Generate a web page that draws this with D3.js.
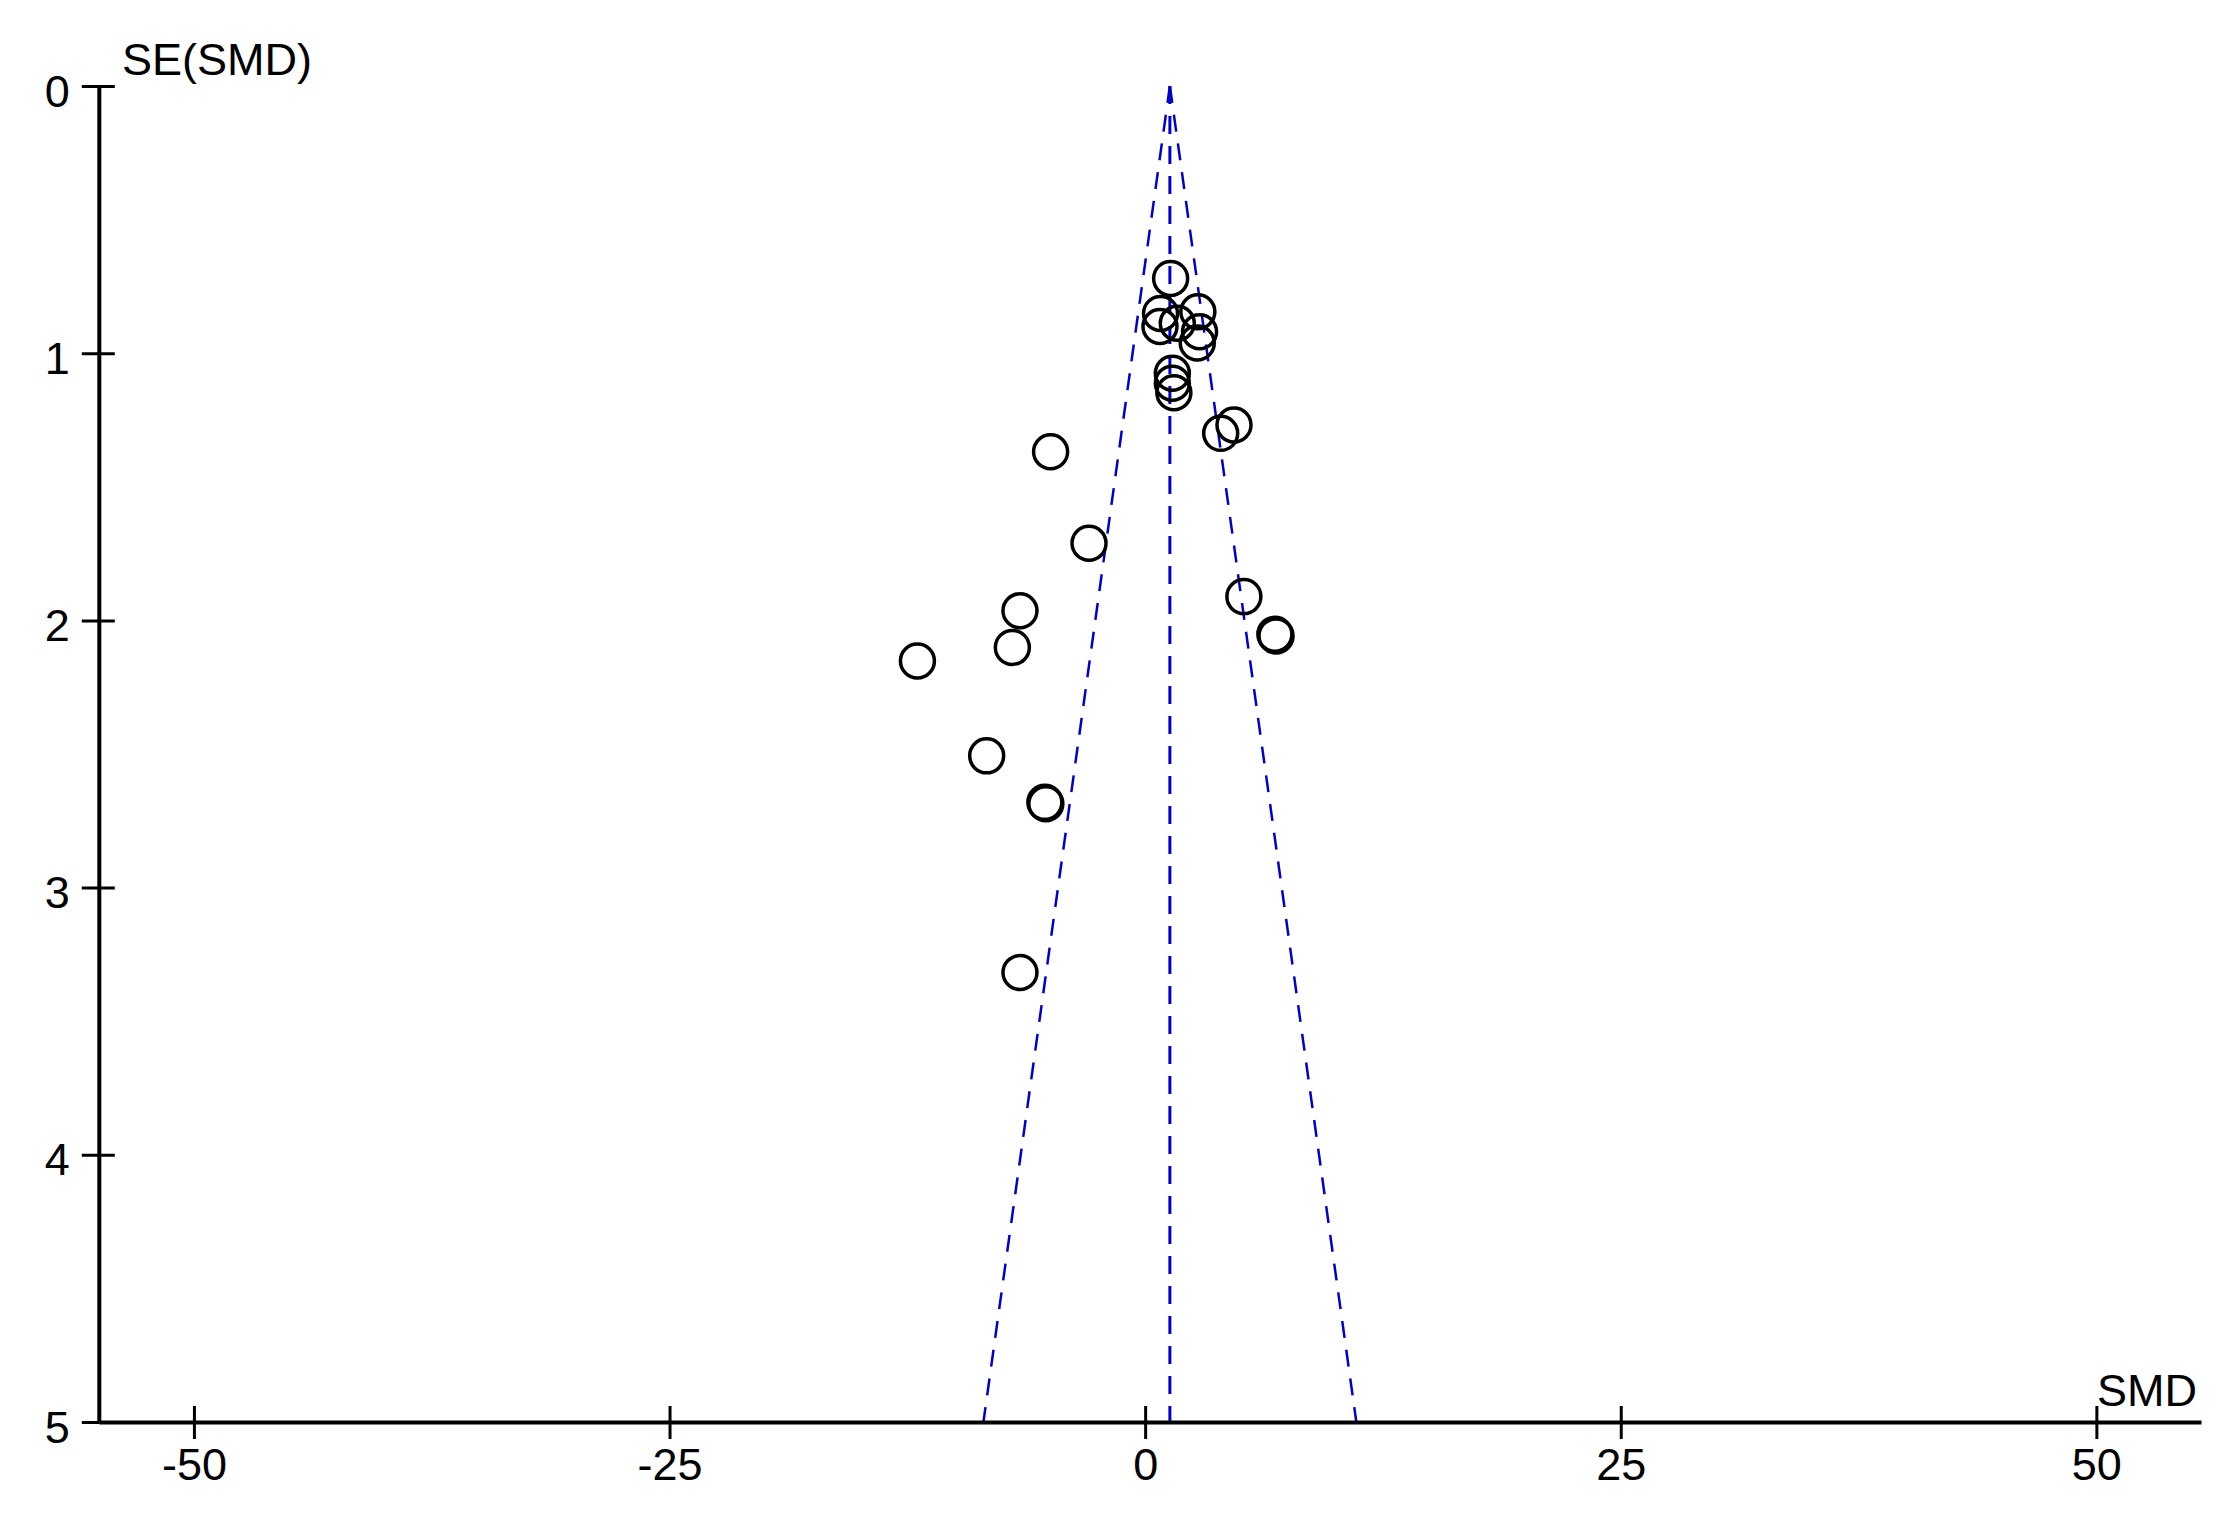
<!DOCTYPE html>
<html lang="en">
<head>
  <meta charset="UTF-8">
  <title>Funnel plot</title>
  <script src="https://d3js.org/d3.v7.min.js"></script>
  <style>
    body { margin: 0; background: #fff; }
    text { font-family: "Liberation Sans", Arial, sans-serif; font-size: 45px; fill: #000; }
  </style>
</head>
<body>
<div class="canvas"></div>
<script>
  // study estimates
  const smd = [1.34, 0.81, 0.78, 2.77, 2.86, 2.74, 1.69,
    1.43, 1.43, 1.51,
    -4.97, 4.67, 3.97, -2.95, 5.19, 6.82, 6.88,
    -6.58, -6.98, -11.97, -8.33, -5.27, -5.22, -6.58]
  const se = [0.72, 0.851, 0.90, 0.845, 0.92, 0.962, 0.888,
    1.075, 1.112, 1.148,
    1.369, 1.269, 1.300, 1.711, 1.911, 2.052, 2.058,
    1.964, 2.101, 2.152, 2.507, 2.681, 2.686, 3.318]
  const pooled = 1.30
  const xTicks = [-50, -25, 0, 25, 50]
  const yTicks = [0, 1, 2, 3, 4, 5]

  const W = 2237, H = 1528
  const svg = d3.select('.canvas')
    .append('svg')
    .attr('width', W)
    .attr('height', H)

  const x = d3.scaleLinear().domain([-55, 55.5]).range([98.8, 2201])
  const y = d3.scaleLinear().domain([0, 5]).range([86, 1422])
  const blue = '#0000cc'

  // funnel: pooled line and 95% limits
  const g = svg.append('g')
  g.append('line')
    .attr('x1', x(pooled)).attr('x2', x(pooled))
    .attr('y1', y(0)).attr('y2', y(5))
    .attr('stroke', blue).attr('stroke-width', 3)
    .attr('stroke-dasharray', '18,12')
  const line = d3.line().x(d => x(d[0])).y(d => y(d[1]))
  ;[-1.96, 1.96].forEach(z => {
    g.append('path')
      .attr('d', line([[pooled, 0], [pooled + z * 5, 5]]))
      .attr('fill', 'none')
      .attr('stroke', blue).attr('stroke-width', 2.5)
      .attr('stroke-dasharray', '17,12')
  })

  // studies
  g.selectAll('circle')
    .data(smd.map((d, i) => [d, se[i]]))
    .enter()
    .append('circle')
    .attr('cx', d => x(d[0]))
    .attr('cy', d => y(d[1]))
    .attr('r', 17)
    .attr('fill', 'none')
    .attr('stroke', '#000')
    .attr('stroke-width', 3.5)

  // axes (ticks cross the line)
  const xAxis = svg.append('g')
    .attr('transform', `translate(0,${y(5)})`)
    .call(d3.axisBottom(x).tickValues(xTicks).tickFormat(d3.format('d')).tickSizeOuter(0))
  xAxis.select('.domain').attr('stroke-width', 4)
  xAxis.selectAll('.tick line').attr('y1', -16).attr('y2', 17).attr('stroke-width', 3)
  xAxis.selectAll('.tick text')
    .attr('y', 58).attr('dy', 0)
    .attr('font-size', null).attr('font-family', null)
    .text(d => d < 0 ? '-' + Math.abs(d) : d)

  const yAxis = svg.append('g')
    .attr('transform', `translate(${x(-55)},0)`)
    .call(d3.axisLeft(y).tickValues(yTicks).tickFormat(d3.format('d')).tickSizeOuter(0))
  yAxis.select('.domain').attr('stroke-width', 4)
  yAxis.selectAll('.tick line').attr('x1', -17).attr('x2', 16).attr('stroke-width', 3)
  yAxis.selectAll('.tick text')
    .attr('x', -29).attr('dy', 0).attr('y', 20)
    .attr('font-size', null).attr('font-family', null)

  svg.append('text').attr('x', 122).attr('y', 75).text('SE(SMD)')
  svg.append('text').attr('x', 2097).attr('y', 1406).text('SMD')
</script>
</body>
</html>
